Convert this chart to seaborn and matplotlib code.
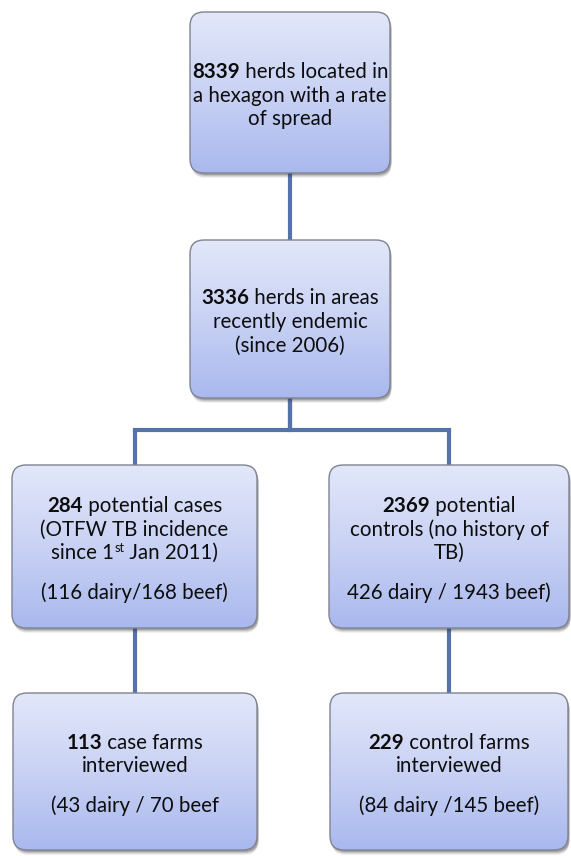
import numpy as np
import pandas as pd
import matplotlib
matplotlib.use("Agg")
import matplotlib.pyplot as plt
from matplotlib.patches import FancyBboxPatch
from matplotlib.colors import LinearSegmentedColormap
import seaborn as sns

# -------------------------
# Flowchart content
# -------------------------
# **x** = bold run, ^x^ = superscript run
box_names = ["located", "endemic", "cases", "controls", "case_farms", "control_farms"]

box_text_main = [
    ["**8339** herds located in", "a hexagon with a rate", "of spread"],
    ["**3336** herds in areas", "recently endemic", "(since 2006)"],
    ["**284** potential cases", "(OTFW TB incidence", "since 1^st^ Jan 2011)"],
    ["**2369** potential", "controls (no history of", "TB)"],
    ["**113** case farms", "interviewed"],
    ["**229** control farms", "interviewed"],
]

box_text_sub = [
    [],
    [],
    ["(116 dairy/168 beef)"],
    ["426 dairy / 1943 beef)"],
    ["(43 dairy / 70 beef"],
    ["(84 dairy /145 beef)"],
]

# parent -> child links
links = [("located", "endemic"), ("endemic", "cases"), ("endemic", "controls"),
         ("cases", "case_farms"), ("controls", "control_farms")]

# -------------------------
# Layout (pixels)
# -------------------------
W, H = 571, 856
box_x = [190, 190, 12, 329, 13, 330]
box_y = [12, 240, 465, 465, 693, 693]
box_w = [200, 200, 245, 240, 244, 238]
box_h = [161, 158, 163, 163, 157, 157]
split_y = 430

line_step = 23.5
para_gap = 16
font_size = 14.8
line_color = "#5572ab"

sns.set_theme(style="white")
plt.rcParams["font.family"] = ["Lato", "DejaVu Sans"]

fig = plt.figure(figsize=(W / 100, H / 100), dpi=100)
ax = fig.add_axes([0, 0, 1, 1])
ax.set_xlim(0, W)
ax.set_ylim(H, 0)
ax.axis("off")

boxes = pd.DataFrame({"name": box_names, "x": box_x, "y": box_y, "w": box_w, "h": box_h})
boxes["cx"] = boxes["x"] + boxes["w"] / 2
boxes = boxes.set_index("name")

# -------------------------
# Connectors
# -------------------------
for parent, child in links:
    p = boxes.loc[parent]
    c = boxes.loc[child]
    if abs(p["cx"] - c["cx"]) < 5:
        ax.plot([p["cx"], p["cx"]], [p["y"] + p["h"], c["y"]], color=line_color, lw=3, zorder=1,
                solid_capstyle="butt")
    else:
        ax.plot([p["cx"], p["cx"]], [p["y"] + p["h"], split_y], color=line_color, lw=3, zorder=1,
                solid_capstyle="butt")
        ax.plot([p["cx"], c["cx"]], [split_y, split_y], color=line_color, lw=3, zorder=1,
                solid_capstyle="projecting")
        ax.plot([c["cx"], c["cx"]], [split_y, c["y"]], color=line_color, lw=3, zorder=1,
                solid_capstyle="butt")

# -------------------------
# Boxes with gradient fill
# -------------------------
grad_cmap = LinearSegmentedColormap.from_list("box", ["#e2e7f9", "#c9d2f4", "#a9b8ee"])
grad = np.linspace(0, 1, 256).reshape(-1, 1)

for name, b in boxes.iterrows():
    # soft shadow
    for k, a in zip([5, 4, 3, 2], [0.07, 0.10, 0.15, 0.22]):
        sh = FancyBboxPatch((b["x"] + 1.5, b["y"] + k), b["w"], b["h"],
                            boxstyle="round,pad=0,rounding_size=14",
                            fc="#303030", ec="none", alpha=a, zorder=2)
        ax.add_patch(sh)
    patch = FancyBboxPatch((b["x"], b["y"]), b["w"], b["h"],
                           boxstyle="round,pad=0,rounding_size=14",
                           fc="none", ec="#7f8391", lw=1.0, zorder=4)
    ax.add_patch(patch)
    im = ax.imshow(grad, cmap=grad_cmap, aspect="auto", zorder=3,
                   extent=(b["x"], b["x"] + b["w"], b["y"] + b["h"], b["y"]))
    im.set_clip_path(patch)

ax.set_xlim(0, W)
ax.set_ylim(H, 0)

# -------------------------
# Text with mixed runs
# -------------------------
fig.canvas.draw()
renderer = fig.canvas.get_renderer()


def parse_runs(s):
    runs = []
    buf = ""
    i = 0
    while i < len(s):
        if s.startswith("**", i):
            j = s.index("**", i + 2)
            if buf:
                runs.append((buf, "n"))
                buf = ""
            runs.append((s[i + 2:j], "b"))
            i = j + 2
        elif s[i] == "^":
            j = s.index("^", i + 1)
            if buf:
                runs.append((buf, "n"))
                buf = ""
            runs.append((s[i + 1:j], "s"))
            i = j + 1
        else:
            buf += s[i]
            i += 1
    if buf:
        runs.append((buf, "n"))
    return runs


def draw_line(cx, baseline, s):
    arts = []
    total = 0
    for txt, kind in parse_runs(s):
        size = font_size * 0.62 if kind == "s" else font_size
        dy = -7.5 if kind == "s" else 0
        t = ax.text(0, baseline + dy, txt, fontsize=size,
                    fontweight="bold" if kind == "b" else "normal",
                    ha="left", va="baseline", color="#0d0d0d", zorder=5)
        w = t.get_window_extent(renderer).width
        arts.append((t, w))
        total += w
    x = cx - total / 2
    for t, w in arts:
        t.set_x(x)
        x += w


for i, (name, b) in enumerate(boxes.iterrows()):
    main = box_text_main[i]
    sub = box_text_sub[i]
    n_lines = len(main) + len(sub)
    block = (n_lines - 1) * line_step + (para_gap if sub else 0)
    y0 = b["y"] + b["h"] / 2 - block / 2 + 2
    ys = [y0 + k * line_step for k in range(len(main))]
    ys += [y0 + (len(main) + k) * line_step + para_gap for k in range(len(sub))]
    for s, yc in zip(main + sub, ys):
        draw_line(b["cx"], yc + 7, s)

plt.savefig("out.png", dpi=100)
plt.close()
